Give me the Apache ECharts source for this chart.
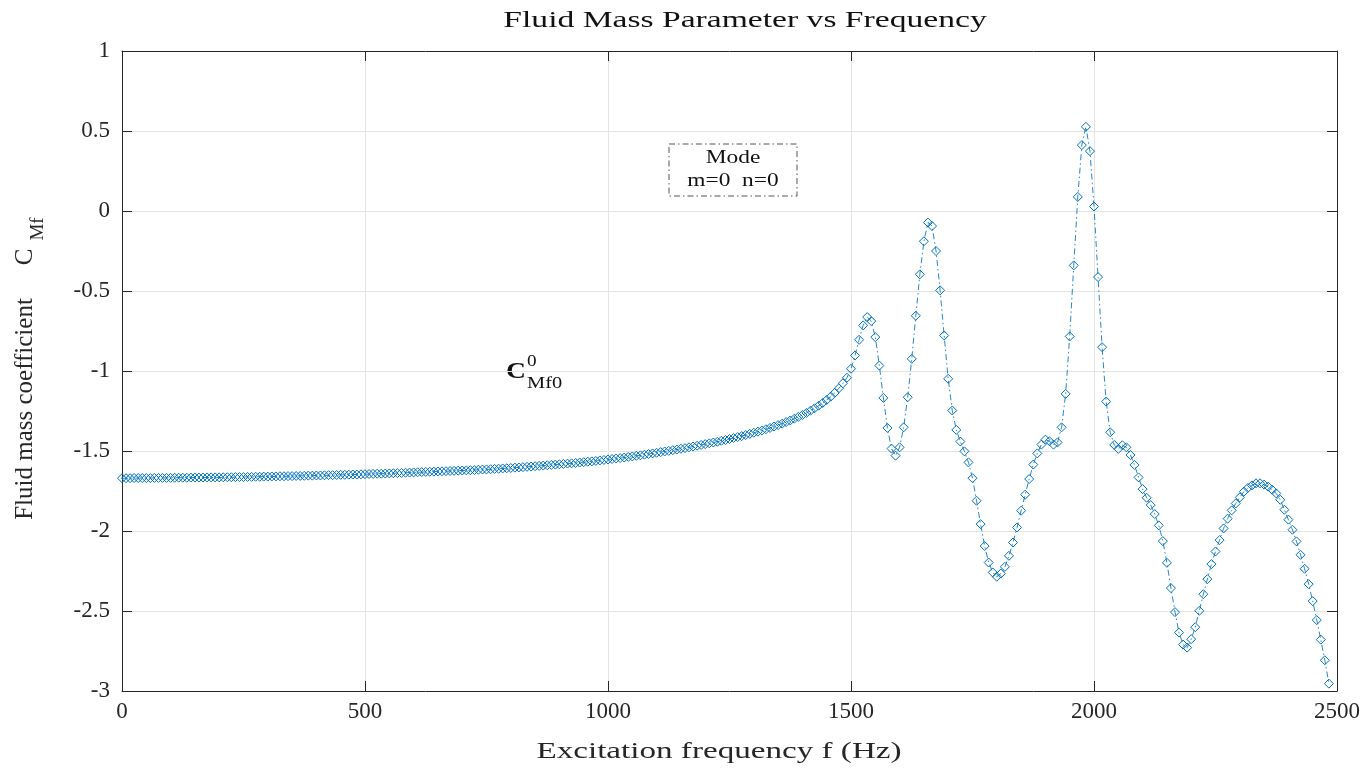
<!DOCTYPE html>
<html><head><meta charset="utf-8">
<script src="https://cdn.jsdelivr.net/npm/echarts/dist/echarts.min.js"></script>
<style>html,body{margin:0;padding:0;background:#fff}#chart{width:1371px;height:769px}</style>
</head><body><div id="chart"></div>
<script>
// Frequency grid: 0 .. 2500 Hz sampled every 2500/300 Hz (last visible sample ~2483 Hz)
const freqStart = 0;
const freqStep = 2500 / 300;

// Fluid mass coefficient C_Mf, low-frequency smooth band (samples 0..179)
const cmfLow = [
-1.670,-1.670,-1.670,-1.669,-1.669,-1.669,-1.669,-1.669,-1.668,-1.668,
-1.668,-1.668,-1.668,-1.667,-1.667,-1.667,-1.667,-1.666,-1.666,-1.666,
-1.666,-1.665,-1.665,-1.665,-1.665,-1.664,-1.664,-1.664,-1.663,-1.663,
-1.663,-1.662,-1.662,-1.661,-1.661,-1.660,-1.660,-1.659,-1.659,-1.658,
-1.658,-1.657,-1.657,-1.656,-1.656,-1.655,-1.654,-1.654,-1.653,-1.653,
-1.652,-1.651,-1.651,-1.650,-1.649,-1.649,-1.648,-1.647,-1.647,-1.646,
-1.645,-1.644,-1.643,-1.642,-1.642,-1.641,-1.640,-1.639,-1.638,-1.637,
-1.636,-1.635,-1.634,-1.633,-1.632,-1.631,-1.630,-1.629,-1.628,-1.627,
-1.626,-1.625,-1.624,-1.623,-1.622,-1.621,-1.620,-1.619,-1.617,-1.616,
-1.615,-1.614,-1.612,-1.611,-1.609,-1.608,-1.606,-1.604,-1.603,-1.601,
-1.599,-1.597,-1.595,-1.593,-1.591,-1.589,-1.587,-1.585,-1.583,-1.581,
-1.579,-1.577,-1.575,-1.572,-1.570,-1.567,-1.565,-1.562,-1.559,-1.556,
-1.553,-1.550,-1.547,-1.544,-1.541,-1.537,-1.534,-1.530,-1.527,-1.523,
-1.519,-1.515,-1.511,-1.507,-1.503,-1.499,-1.495,-1.491,-1.486,-1.482,
-1.477,-1.472,-1.467,-1.462,-1.457,-1.452,-1.447,-1.442,-1.436,-1.431,
-1.425,-1.419,-1.413,-1.407,-1.400,-1.393,-1.386,-1.379,-1.372,-1.364,
-1.356,-1.347,-1.338,-1.329,-1.319,-1.309,-1.298,-1.287,-1.275,-1.262,
-1.248,-1.233,-1.217,-1.200,-1.181,-1.160,-1.136,-1.108,-1.077,-1.042
];

// Resonance region (samples 180..298)
const cmfResonance = [
-0.986,-0.903,-0.805,-0.715,-0.663,-0.688,-0.788,-0.966,-1.168,-1.356,
-1.485,-1.529,-1.477,-1.352,-1.164,-0.924,-0.655,-0.396,-0.189,-0.072,
-0.094,-0.250,-0.496,-0.778,-1.049,-1.247,-1.368,-1.441,-1.502,-1.571,
-1.670,-1.811,-1.957,-2.094,-2.197,-2.259,-2.286,-2.266,-2.224,-2.155,
-2.072,-1.978,-1.873,-1.773,-1.675,-1.585,-1.515,-1.460,-1.429,-1.439,
-1.460,-1.446,-1.352,-1.143,-0.784,-0.340,0.088,0.412,0.526,0.374,
0.028,-0.413,-0.851,-1.191,-1.383,-1.462,-1.487,-1.464,-1.477,-1.525,
-1.587,-1.665,-1.738,-1.792,-1.838,-1.894,-1.965,-2.063,-2.199,-2.357,
-2.507,-2.635,-2.710,-2.729,-2.676,-2.601,-2.499,-2.395,-2.301,-2.207,
-2.128,-2.057,-1.984,-1.923,-1.871,-1.828,-1.790,-1.754,-1.731,-1.715,
-1.702,-1.702,-1.710,-1.723,-1.742,-1.765,-1.805,-1.867,-1.929,-1.992,
-2.065,-2.149,-2.236,-2.332,-2.438,-2.557,-2.679,-2.808,-2.954
];

const xTicks = [0, 500, 1000, 1500, 2000, 2500];
const yTicks = [-3, -2.5, -2, -1.5, -1, -0.5, 0, 0.5, 1];

const titleText = 'Fluid Mass Parameter vs Frequency';
const xLabelText = 'Excitation frequency f (Hz)';
const yLabelText = 'Fluid mass coefficient';
const legendTitle = 'Mode';
const legendEntry = 'm=0  n=0';

const cmf = cmfLow.concat(cmfResonance);
const seriesData = cmf.map((v, i) => [freqStart + i * freqStep, v]);

const serif = 'Liberation Serif, Times New Roman, serif';
const dark = '#262626';
const blue = '#0072BD';

const axisCommon = {
  axisLine: { show: true, onZero: false, lineStyle: { color: dark, width: 1 } },
  axisTick: { show: true, inside: true, length: 10, lineStyle: { color: dark, width: 1 } },
};
const plain = v => String(v);

const chart = echarts.init(document.getElementById('chart'), null, { renderer: 'canvas' });
chart.setOption({
  backgroundColor: '#fff',
  animation: false,
  grid: { left: 122, right: 34, top: 51, bottom: 78, containLabel: false },
  xAxis: [
    Object.assign({
      type: 'value', min: xTicks[0], max: xTicks[xTicks.length - 1], interval: 500, position: 'bottom',
      axisLabel: { show: true, color: dark, fontFamily: serif, fontSize: 23, margin: 9, formatter: plain },
      splitLine: { show: true, lineStyle: { color: '#e3e3e3', width: 1 } }
    }, axisCommon),
    Object.assign({
      type: 'value', min: xTicks[0], max: xTicks[xTicks.length - 1], interval: 500, position: 'top',
      axisLabel: { show: false }, splitLine: { show: false }
    }, axisCommon)
  ],
  yAxis: [
    Object.assign({
      type: 'value', min: yTicks[0], max: yTicks[yTicks.length - 1], interval: 0.5, position: 'left',
      axisLabel: { show: true, color: dark, fontFamily: serif, fontSize: 23, margin: 12, formatter: plain },
      splitLine: { show: true, lineStyle: { color: '#e3e3e3', width: 1 } }
    }, axisCommon),
    Object.assign({
      type: 'value', min: yTicks[0], max: yTicks[yTicks.length - 1], interval: 0.5, position: 'right',
      axisLabel: { show: false }, splitLine: { show: false }
    }, axisCommon)
  ],
  series: [{
    type: 'line',
    xAxisIndex: 0, yAxisIndex: 0,
    data: seriesData,
    symbol: 'diamond',
    symbolSize: 9,
    showAllSymbol: true,
    clip: true,
    silent: true,
    lineStyle: { color: blue, width: 1, type: [6, 3, 1.5, 3], opacity: 0.85 },
    itemStyle: { color: 'rgba(255,255,255,0)', borderColor: blue, borderWidth: 1 },
    emphasis: { disabled: true }
  }],
  graphic: [
    { type: 'text', x: 745, y: 21, scaleX: 1.4, silent: true,
      style: { text: titleText, fontFamily: serif, fontSize: 24, fill: '#111',
               textAlign: 'center', textVerticalAlign: 'middle', align: 'center', verticalAlign: 'middle' } },
    { type: 'text', x: 719, y: 752, scaleX: 1.38, silent: true,
      style: { text: xLabelText, fontFamily: serif, fontSize: 24, fill: dark,
               textAlign: 'center', textVerticalAlign: 'middle', align: 'center', verticalAlign: 'middle' } },
    { type: 'text', x: 25, y: 409, rotation: Math.PI / 2, silent: true,
      style: { text: yLabelText, fontFamily: serif, fontSize: 25, fill: dark,
               textAlign: 'center', textVerticalAlign: 'middle', align: 'center', verticalAlign: 'middle' } },
    { type: 'text', x: 25, y: 257, rotation: Math.PI / 2, silent: true,
      style: { text: 'C', fontFamily: serif, fontSize: 25, fill: dark,
               textAlign: 'center', textVerticalAlign: 'middle', align: 'center', verticalAlign: 'middle' } },
    { type: 'text', x: 38, y: 229, rotation: Math.PI / 2, silent: true,
      style: { text: 'Mf', fontFamily: serif, fontSize: 19, fill: dark,
               textAlign: 'center', textVerticalAlign: 'middle', align: 'center', verticalAlign: 'middle' } },
    { type: 'rect', silent: true,
      shape: { x: 669, y: 144, width: 128, height: 52 },
      style: { fill: '#fff', stroke: '#555', lineWidth: 1, lineDash: [6, 3, 1.5, 3] } },
    { type: 'text', x: 733, y: 158, scaleX: 1.3, silent: true,
      style: { text: legendTitle, fontFamily: serif, fontSize: 18, fill: '#111',
               textAlign: 'center', textVerticalAlign: 'middle', align: 'center', verticalAlign: 'middle' } },
    { type: 'text', x: 733, y: 181, scaleX: 1.3, silent: true,
      style: { text: legendEntry, fontFamily: serif, fontSize: 18, fill: '#111',
               textAlign: 'center', textVerticalAlign: 'middle', align: 'center', verticalAlign: 'middle' } },
    { type: 'text', x: 516, y: 372, scaleX: 1.2, silent: true,
      style: { text: 'C', fontFamily: serif, fontSize: 23, fontWeight: 'bold', fill: '#111',
               textAlign: 'center', textVerticalAlign: 'middle', align: 'center', verticalAlign: 'middle' } },
    { type: 'text', x: 527, y: 362, scaleX: 1.2, silent: true,
      style: { text: '0', fontFamily: serif, fontSize: 16, fill: '#111',
               textAlign: 'left', textVerticalAlign: 'middle', align: 'left', verticalAlign: 'middle' } },
    { type: 'text', x: 527, y: 384, scaleX: 1.2, silent: true,
      style: { text: 'Mf0', fontFamily: serif, fontSize: 17, fill: '#111',
               textAlign: 'left', textVerticalAlign: 'middle', align: 'left', verticalAlign: 'middle' } }
  ]
});
</script></body></html>
